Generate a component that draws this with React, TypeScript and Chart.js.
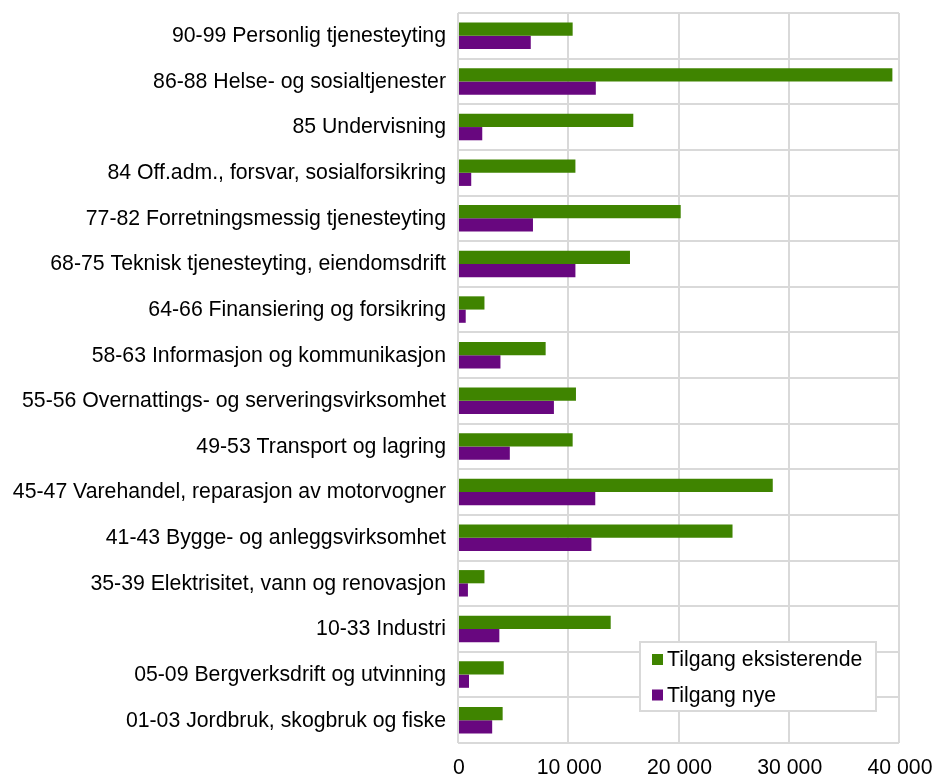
import React, { useEffect, useRef } from "react";
import { Chart, registerables } from "chart.js";

Chart.register(...registerables);

const categories = [
  "90-99 Personlig tjenesteyting",
  "86-88 Helse- og sosialtjenester",
  "85 Undervisning",
  "84 Off.adm., forsvar, sosialforsikring",
  "77-82 Forretningsmessig tjenesteyting",
  "68-75 Teknisk tjenesteyting, eiendomsdrift",
  "64-66 Finansiering og forsikring",
  "58-63 Informasjon og kommunikasjon",
  "55-56 Overnattings- og serveringsvirksomhet",
  "49-53 Transport og lagring",
  "45-47 Varehandel, reparasjon av motorvogner",
  "41-43 Bygge- og anleggsvirksomhet",
  "35-39 Elektrisitet, vann og renovasjon",
  "10-33 Industri",
  "05-09 Bergverksdrift og utvinning",
  "01-03 Jordbruk, skogbruk og fiske",
];

const tilgangEksisterende = [
  10400, 39400, 15900, 10650, 20200, 15600, 2400, 7950, 10700, 10400, 28550,
  24900, 2400, 13850, 4150, 4050,
];

const tilgangNye = [
  6600, 12500, 2200, 1200, 6800, 10650, 700, 3850, 8700, 4700, 12450, 12100,
  900, 3750, 1000, 3100,
];

const seriesNames = ["Tilgang eksisterende", "Tilgang nye"];
const seriesColors = ["#3f8400", "#68077f"];
const xTicks = [0, 10000, 20000, 30000, 40000];
const xTickLabels = ["0", "10 000", "20 000", "30 000", "40 000"];

const FONT = "'Liberation Sans', Arial, sans-serif";

const labelsPlugin = {
  id: "axisLabelsAndLegend",
  afterDraw(chart: any) {
    const { ctx, chartArea, scales } = chart;
    ctx.save();
    ctx.font = `21.25px ${FONT}`;
    ctx.textBaseline = "middle";
    ctx.fillStyle = "#000000";
    ctx.textAlign = "right";
    categories.forEach((c, i) => {
      const y = scales.y.getPixelForValue(i);
      ctx.fillText(c, chartArea.left - 12, y + 0.5);
    });
    ctx.textAlign = "center";
    xTicks.forEach((v, i) => {
      const x = scales.x.getPixelForValue(v);
      ctx.fillText(xTickLabels[i], x + 1, chartArea.bottom + 25);
    });

    // legend box
    const w = 236;
    const h = 69;
    const lx = chartArea.right - 23 - w;
    const ly = chartArea.bottom - 32 - h;
    ctx.fillStyle = "#ffffff";
    ctx.fillRect(lx, ly, w, h);
    ctx.strokeStyle = "#d9d9d9";
    ctx.lineWidth = 2;
    ctx.strokeRect(lx, ly, w, h);
    ctx.textAlign = "left";
    seriesNames.forEach((name, i) => {
      const cy = ly + 17.5 + i * 35.5;
      ctx.fillStyle = seriesColors[i];
      ctx.fillRect(lx + 12, cy - 5.5, 11, 11);
      ctx.fillStyle = "#000000";
      ctx.fillText(name, lx + 27, cy + 1);
    });
    ctx.restore();
  },
};

export default function App() {
  const ref = useRef<HTMLCanvasElement | null>(null);

  useEffect(() => {
    if (!ref.current) return;
    const chart = new Chart(ref.current, {
      type: "bar",
      data: {
        labels: categories,
        datasets: [
          {
            label: seriesNames[0],
            data: tilgangEksisterende,
            backgroundColor: seriesColors[0],
            borderWidth: 0,
          },
          {
            label: seriesNames[1],
            data: tilgangNye,
            backgroundColor: seriesColors[1],
            borderWidth: 0,
          },
        ],
      },
      options: {
        indexAxis: "y",
        animation: false,
        responsive: false,
        maintainAspectRatio: false,
        layout: { padding: { top: 13, right: 35, left: 0, bottom: 0 } },
        datasets: {
          bar: { barPercentage: 1, categoryPercentage: 0.58 },
        },
        plugins: {
          legend: { display: false },
          tooltip: { enabled: false },
        },
        scales: {
          x: {
            min: 0,
            max: 40000,
            afterBuildTicks(scale: any) {
              scale.ticks = xTicks.map((v) => ({ value: v }));
            },
            afterFit(scale: any) {
              scale.height = 35;
              scale.paddingLeft = 0;
              scale.paddingRight = 0;
            },
            grid: {
              color: "#d9d9d9",
              lineWidth: 2,
              drawTicks: false,
            },
            border: { display: false },
            ticks: { display: false },
          },
          y: {
            afterFit(scale: any) {
              scale.width = 458;
              scale.paddingTop = 0;
              scale.paddingBottom = 0;
            },
            grid: {
              color: "#d9d9d9",
              lineWidth: 2,
              drawTicks: false,
              offset: true,
            },
            border: { display: false },
            ticks: { display: false, autoSkip: false },
          },
        },
      },
      plugins: [labelsPlugin],
    });
    return () => chart.destroy();
  }, []);

  return (
    <div style={{ position: "absolute", left: 0, top: 0, width: 934, height: 778, background: "#fff" }}>
      <canvas ref={ref} width={934} height={778} style={{ width: 934, height: 778 }} />
    </div>
  );
}
